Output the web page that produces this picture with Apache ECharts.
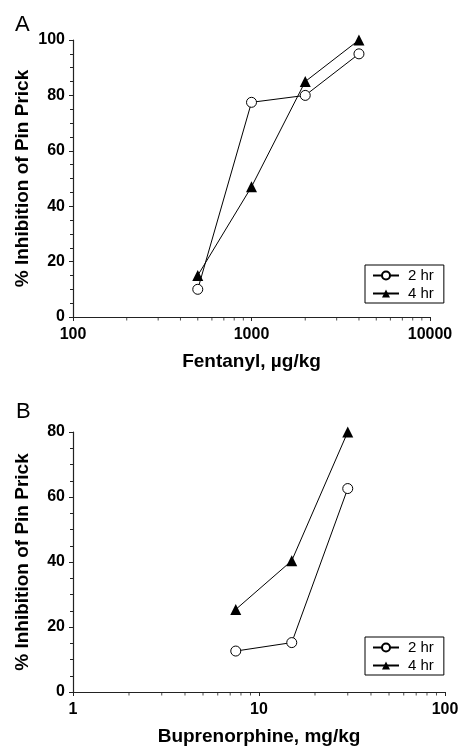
<!DOCTYPE html>
<html>
<head>
<meta charset="utf-8">
<script src="https://cdn.jsdelivr.net/npm/echarts@6/dist/echarts.min.js"></script>
<style>
  html, body { margin: 0; padding: 0; background: #fff; }
  #chart { width: 461px; height: 746px; }
</style>
</head>
<body>
<div id="chart"></div>
<script>
// Panel A: fentanyl
let doseA = [500, 1000, 2000, 4000]
let hr2A = [10, 77.5, 80, 95]
let hr4A = [15, 47, 85, 100]
// Panel B: buprenorphine
let doseB = [7.5, 15, 30]
let hr2B = [12.6, 15.2, 62.6]
let hr4B = [25.4, 40.4, 80]
// minor ticks of the log axes
let minorA = [200, 300, 400, 500, 600, 700, 800, 900, 2000, 3000, 4000, 5000, 6000, 7000, 8000, 9000]
let minorB = [2, 3, 4, 5, 6, 7, 8, 9, 20, 30, 40, 50, 60, 70, 80, 90]

let font = "'Liberation Sans', Arial, sans-serif"
let myChart = echarts.init(document.getElementById('chart'))

function pairs(xs, ys) {
  return xs.map(function(x, i) { return [x, ys[i]] })
}

function xAxisOpt(idx, min, max, title) {
  return {
    type: 'log', logBase: 10, gridIndex: idx, min: min, max: max,
    name: title, nameLocation: 'middle', nameGap: 35, nameMoveOverlap: false,
    nameTextStyle: { fontFamily: font, fontSize: 19, fontWeight: 'bold', color: '#000' },
    axisLine: { lineStyle: { color: '#222', width: 1.2 } },
    axisTick: { show: true, length: 4, lineStyle: { color: '#222' } },
    splitLine: { show: false },
    axisLabel: {
      fontFamily: font, fontSize: 16, fontWeight: 'bold', color: '#000', margin: 10,
      formatter: function(v) { return String(Math.round(v)) }
    }
  }
}

function yAxisOpt(idx, max) {
  return {
    type: 'value', gridIndex: idx, min: 0, max: max, interval: 20,
    name: '% Inhibition of Pin Prick', nameLocation: 'middle', nameGap: 41, nameMoveOverlap: false,
    nameTextStyle: { fontFamily: font, fontSize: 19, fontWeight: 'bold', color: '#000' },
    axisLine: { show: true, lineStyle: { color: '#222', width: 1.2 } },
    axisTick: { show: true, length: 4, lineStyle: { color: '#222' } },
    minorTick: { show: true, splitNumber: 4, length: 3, lineStyle: { color: '#222' } },
    splitLine: { show: false },
    axisLabel: { fontFamily: font, fontSize: 16, fontWeight: 'bold', color: '#000', margin: 8 }
  }
}

function lineSeries(name, idx, data, open) {
  return {
    name: name, type: 'line', xAxisIndex: idx, yAxisIndex: idx,
    data: data, clip: false,
    symbol: open ? 'circle' : 'triangle',
    symbolSize: open ? 10 : 11,
    lineStyle: { color: '#000', width: 1 },
    itemStyle: open ? { color: '#fff', borderColor: '#000', borderWidth: 1 } : { color: '#000' },
    animation: false
  }
}

function tickSeries(idx, ticks) {
  return {
    type: 'scatter', xAxisIndex: idx, yAxisIndex: idx,
    data: ticks.map(function(t) { return [t, 0] }),
    symbol: 'rect', symbolSize: [1, 3], symbolOffset: [0, 2],
    itemStyle: { color: '#222' }, silent: true, clip: false, animation: false
  }
}

function legendOpt(top) {
  return {
    data: ['2 hr', '4 hr'], left: 365, top: top, orient: 'vertical',
    borderColor: '#000', borderWidth: 1, padding: [3, 10, 2, 7], itemGap: 3,
    itemWidth: 26, itemHeight: 10,
    textStyle: { fontFamily: font, fontSize: 15, color: '#000', padding: [0, 0, 0, 4] }
  }
}

let option = {
  backgroundColor: '#fff',
  animation: false,
  title: [
    { text: 'A', left: 10, top: 9, textStyle: { fontFamily: font, fontSize: 22, fontWeight: 'normal', color: '#000' } },
    { text: 'B', left: 11, top: 396, textStyle: { fontFamily: font, fontSize: 22, fontWeight: 'normal', color: '#000' } }
  ],
  grid: [
    { left: 73, top: 40, width: 357, height: 277, outerBoundsMode: 'none', containLabel: false },
    { left: 73, top: 432, width: 372, height: 260, outerBoundsMode: 'none', containLabel: false }
  ],
  xAxis: [
    xAxisOpt(0, 100, 10000, 'Fentanyl, µg/kg'),
    xAxisOpt(1, 1, 100, 'Buprenorphine, mg/kg')
  ],
  yAxis: [yAxisOpt(0, 100), yAxisOpt(1, 80)],
  legend: [legendOpt(265), legendOpt(637)],
  series: [
    lineSeries('2 hr', 0, pairs(doseA, hr2A), true),
    lineSeries('4 hr', 0, pairs(doseA, hr4A), false),
    lineSeries('2 hr', 1, pairs(doseB, hr2B), true),
    lineSeries('4 hr', 1, pairs(doseB, hr4B), false),
    tickSeries(0, minorA),
    tickSeries(1, minorB)
  ]
}

myChart.setOption(option)
</script>
</body>
</html>
